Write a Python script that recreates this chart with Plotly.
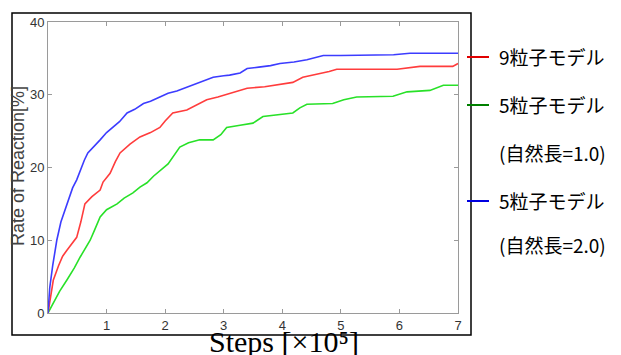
import plotly.graph_objects as go

# Steps [x10^5] and reaction rate [%]
blue_x = [0, 0.03, 0.08, 0.15, 0.22, 0.32, 0.42, 0.49, 0.55, 0.62, 0.68, 0.78, 0.89, 1.0, 1.12, 1.22, 1.35, 1.48, 1.63, 1.75, 1.91, 2.05, 2.2, 2.37, 2.55, 2.7, 2.82, 3.0, 3.1, 3.28, 3.4, 3.6, 3.8, 3.96, 4.2, 4.42, 4.55, 4.7, 5.0, 5.27, 5.6, 5.9, 6.18, 6.6, 7.0]
blue_y = [0, 3.5, 6.5, 10.0, 12.5, 15.0, 17.2, 18.3, 19.6, 21.0, 22.0, 22.8, 23.8, 24.8, 25.6, 26.3, 27.5, 28.0, 28.8, 29.1, 29.7, 30.2, 30.5, 31.0, 31.6, 32.0, 32.4, 32.6, 32.7, 33.0, 33.6, 33.8, 34.0, 34.3, 34.5, 34.8, 35.1, 35.4, 35.4, 35.4, 35.5, 35.5, 35.7, 35.7, 35.7]

red_x = [0, 0.04, 0.09, 0.18, 0.25, 0.32, 0.4, 0.49, 0.56, 0.63, 0.75, 0.89, 0.94, 1.06, 1.15, 1.23, 1.4, 1.57, 1.75, 1.91, 2.0, 2.13, 2.37, 2.55, 2.71, 2.9, 3.1, 3.3, 3.4, 3.7, 4.0, 4.18, 4.35, 4.6, 4.8, 4.93, 5.3, 5.96, 6.35, 6.6, 6.91, 7.0]
red_y = [0, 2.0, 4.5, 6.5, 7.8, 8.6, 9.5, 10.4, 12.5, 15.0, 16.0, 16.9, 18.0, 19.2, 20.8, 22.0, 23.2, 24.2, 24.8, 25.5, 26.4, 27.5, 27.9, 28.7, 29.3, 29.7, 30.2, 30.6, 30.9, 31.1, 31.5, 31.7, 32.4, 32.8, 33.2, 33.5, 33.5, 33.5, 33.9, 33.9, 33.9, 34.3]

green_x = [0, 0.1, 0.2, 0.32, 0.45, 0.55, 0.63, 0.72, 0.8, 0.89, 1.0, 1.18, 1.3, 1.45, 1.57, 1.69, 1.8, 1.91, 2.05, 2.25, 2.4, 2.59, 2.82, 2.95, 3.05, 3.28, 3.5, 3.67, 3.9, 4.18, 4.3, 4.42, 4.86, 5.05, 5.27, 5.6, 5.89, 6.13, 6.52, 6.75, 7.0]
green_y = [0, 1.5, 3.0, 4.5, 6.2, 7.7, 8.8, 10.0, 11.5, 13.2, 14.2, 15.0, 15.8, 16.5, 17.3, 17.9, 18.8, 19.6, 20.5, 22.8, 23.4, 23.8, 23.8, 24.5, 25.5, 25.8, 26.1, 27.0, 27.2, 27.5, 28.2, 28.7, 28.8, 29.3, 29.7, 29.8, 29.8, 30.4, 30.6, 31.3, 31.3]

x_ticks = [1, 2, 3, 4, 5, 6, 7]
y_ticks = [0, 10, 20, 30, 40]

legend_labels = ["9粒子モデル", "5粒子モデル", "(自然長=1.0)", "5粒子モデル", "(自然長=2.0)"]
legend_colors = ["#e00000", "#008000", None, "#0000e0", None]

W, H = 621, 355
L, R, T, B = 48, 163, 22, 42
pw, ph = W - L - R, H - T - B

def px(x):
    return (x - L) / pw

def py(y):
    return (H - B - y) / ph

fig = go.Figure()
fig.add_trace(go.Scatter(x=green_x, y=green_y, mode="lines", line=dict(color="rgb(40,225,40)", width=1.6), showlegend=False))
fig.add_trace(go.Scatter(x=red_x, y=red_y, mode="lines", line=dict(color="rgb(255,60,60)", width=1.6), showlegend=False))
fig.add_trace(go.Scatter(x=blue_x, y=blue_y, mode="lines", line=dict(color="rgb(60,60,255)", width=1.6), showlegend=False))

axis_common = dict(showgrid=False, zeroline=False, showline=True, linecolor="#9a9a9a", linewidth=1,
                   mirror="ticks", ticks="inside", ticklen=4, tickcolor="#9a9a9a",
                   tickfont=dict(family="Liberation Sans", size=13, color="#333333"))
fig.update_xaxes(range=[0, 7], tickvals=x_ticks, **axis_common)
fig.update_yaxes(range=[0, 40], tickvals=y_ticks, **axis_common)

# outer black frame
fig.add_shape(type="rect", xref="paper", yref="paper", x0=px(12), x1=px(471), y0=py(335), y1=py(13),
              line=dict(color="black", width=1.5), fillcolor="rgba(0,0,0,0)", layer="above")

fig.add_annotation(text="Rate of Reaction[%]", xref="paper", yref="paper", x=px(18), y=py(166),
                   textangle=-90, showarrow=False, xanchor="center", yanchor="middle",
                   font=dict(family="Liberation Sans", size=18, color="#444444"))
fig.add_annotation(text="Steps [×10⁵]", xref="paper", yref="paper", x=px(284), y=py(341),
                   showarrow=False, xanchor="center", yanchor="middle",
                   font=dict(family="Liberation Serif", size=30, color="black"))

legend_y = [56, 104, 152, 200, 245]
for lab, col, yy in zip(legend_labels, legend_colors, legend_y):
    fig.add_annotation(text=lab, xref="paper", yref="paper", x=px(497), y=py(yy), showarrow=False,
                       xanchor="left", yanchor="middle",
                       font=dict(family="Noto Sans CJK JP", size=19, color="black"))
    if col:
        fig.add_shape(type="line", xref="paper", yref="paper", x0=px(467), x1=px(489), y0=py(yy + 1), y1=py(yy + 1),
                      line=dict(color=col, width=2))

fig.update_layout(width=W, height=H, margin=dict(l=L, r=R, t=T, b=B, autoexpand=False),
                  paper_bgcolor="white", plot_bgcolor="white")
fig.write_html("out.html")
